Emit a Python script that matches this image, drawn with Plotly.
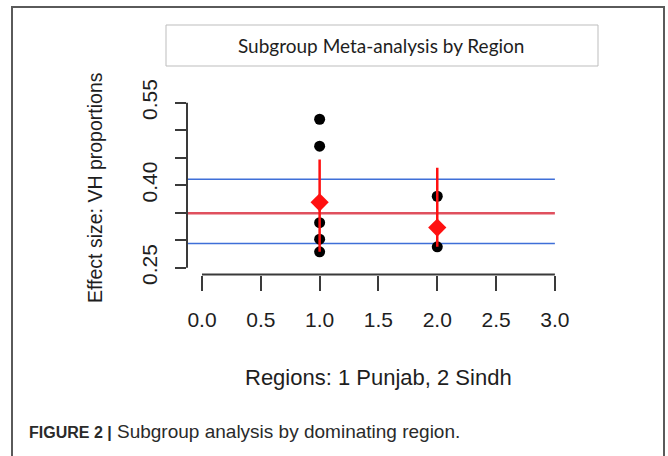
import plotly.graph_objects as go

W, H = 668, 456

# ---- data ----
punjab_studies = [0.520, 0.471, 0.332, 0.302, 0.279]
sindh_studies = [0.380, 0.288]
region_codes = [1, 2]
pooled_est = [0.369, 0.323]
pooled_lo = [0.279, 0.288]
pooled_hi = [0.447, 0.432]
overall_est = 0.349
overall_ci = [0.294, 0.411]

x_tickvals = [0.0, 0.5, 1.0, 1.5, 2.0, 2.5, 3.0]
x_ticktext = ["0.0", "0.5", "1.0", "1.5", "2.0", "2.5", "3.0"]
y_tickvals = [0.25, 0.30, 0.35, 0.40, 0.45, 0.50, 0.55]
y_ticktext = ["0.25", "", "", "0.40", "", "", "0.55"]

title_text = "Subgroup Meta-analysis by Region"
y_title = "Effect size: VH proportions"
x_title = "Regions: 1 Punjab, 2 Sindh"
caption_bold = "FIGURE 2 |"
caption_text = "Subgroup analysis by dominating region."

# ---- layout helpers (pixels -> paper) ----
def px(x):
    return x / W

def py(y):
    return 1 - y / H

XRANGE = [-0.1275, 3.12]
YRANGE = [0.2377, 0.5623]
RFONT = "Liberation Sans, Arial, sans-serif"
AX = "#3a3a3a"

fig = go.Figure()

# reference lines (overall estimate and CI), from plot edge to x=3
line_x = [XRANGE[0], x_tickvals[-1]]
for v in overall_ci:
    fig.add_trace(go.Scatter(x=line_x, y=[v, v], mode="lines",
                             line=dict(color="#3f6fd8", width=1.5),
                             hoverinfo="skip", showlegend=False))
fig.add_trace(go.Scatter(x=line_x, y=[overall_est, overall_est], mode="lines",
                         line=dict(color="#e0505e", width=2.5),
                         hoverinfo="skip", showlegend=False))

# individual studies
fig.add_trace(go.Scatter(x=[region_codes[0]] * len(punjab_studies), y=punjab_studies,
                         mode="markers", marker=dict(color="black", size=11),
                         showlegend=False))
fig.add_trace(go.Scatter(x=[region_codes[1]] * len(sindh_studies), y=sindh_studies,
                         mode="markers", marker=dict(color="black", size=11),
                         showlegend=False))

# pooled subgroup estimates with CI
fig.add_trace(go.Scatter(
    x=region_codes, y=pooled_est, mode="markers",
    marker=dict(color="#ff1010", size=14, symbol="diamond"),
    error_y=dict(type="data", symmetric=False,
                 array=[h - e for h, e in zip(pooled_hi, pooled_est)],
                 arrayminus=[e - l for e, l in zip(pooled_est, pooled_lo)],
                 color="#ff1010", thickness=2.5, width=0),
    showlegend=False))

shapes = [
    # outer figure border (open at bottom)
    dict(type="path", xref="paper", yref="paper",
         path=f"M {px(12)} {py(470)} L {px(12)} {py(7)} L {px(664)} {py(7)} L {px(664)} {py(470)}",
         line=dict(color="#5a5a5a", width=2)),
    # title box
    dict(type="rect", xref="paper", yref="paper",
         x0=px(166), x1=px(598), y0=py(66), y1=py(25),
         line=dict(color="#bdbdbd", width=1), fillcolor="white"),
    # R-style axis lines (first to last tick)
    dict(type="line", xref="x", yref="y domain", x0=x_tickvals[0], x1=x_tickvals[-1],
         y0=0, y1=0, line=dict(color=AX, width=2)),
    dict(type="line", xref="x domain", yref="y", x0=0, x1=0,
         y0=y_tickvals[0], y1=y_tickvals[-1], line=dict(color=AX, width=2)),
]

cap = (f"<span style='font-family:Liberation Sans Narrow, Liberation Sans;font-size:16px'>"
       f"<b>{caption_bold}</b></span> {caption_text}")

annotations = [
    dict(text=title_text, xref="paper", yref="paper", x=px(381), y=py(45),
         xanchor="center", yanchor="middle", showarrow=False,
         font=dict(family="Lato, Carlito, sans-serif", size=19, color="#1e1e1e")),
    dict(text=y_title, xref="paper", yref="paper", x=px(95), y=py(188),
         xanchor="center", yanchor="middle", textangle=-90, showarrow=False,
         font=dict(family=RFONT, size=19.5, color="#1e1e1e")),
    dict(text=x_title, xref="paper", yref="paper", x=px(378), y=py(377),
         xanchor="center", yanchor="middle", showarrow=False,
         font=dict(family=RFONT, size=22, color="#1e1e1e")),
    dict(text=cap, xref="paper", yref="paper",
         x=px(27), y=py(431), xanchor="left", yanchor="middle", showarrow=False,
         font=dict(family=RFONT, size=19, color="#2a2a2a")),
]

fig.update_layout(
    width=W, height=H, autosize=False,
    margin=dict(l=0, r=0, t=0, b=0, pad=0),
    paper_bgcolor="white", plot_bgcolor="white",
    shapes=shapes, annotations=annotations,
    xaxis=dict(domain=[px(187), px(569)], range=XRANGE, automargin=False,
               tickvals=x_tickvals, ticktext=x_ticktext,
               ticks="outside", ticklen=15, tickwidth=2, tickcolor=AX,
               showline=False, showgrid=False, zeroline=False,
               ticklabelstandoff=11,
               tickfont=dict(family=RFONT, size=21, color="#1e1e1e")),
    yaxis=dict(domain=[py(274.5), py(96)], range=YRANGE, automargin=False,
               tickvals=y_tickvals, ticktext=y_ticktext, tickangle=-90,
               ticks="outside", ticklen=11, tickwidth=2, tickcolor=AX,
               showline=False, showgrid=False, zeroline=False,
               ticklabelstandoff=10,
               tickfont=dict(family=RFONT, size=21, color="#1e1e1e")),
)

fig.write_html("out.html", config={"responsive": False, "displayModeBar": False},
               post_script="document.body.style.margin='0';document.body.style.overflow='hidden';")
